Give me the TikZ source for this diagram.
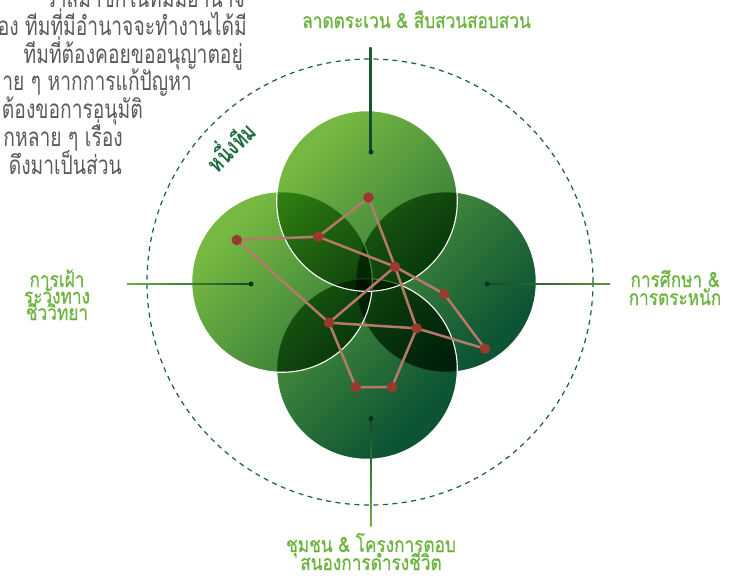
\documentclass[tikz,border=0pt]{standalone}
\usepackage{fontspec}
\newfontfamily\thai[Script=Thai, FakeStretch=0.74]{Loma}
\newfontfamily\thailbl[Script=Thai, FakeStretch=0.82, FakeBold=0.6]{Loma}
\usetikzlibrary{calc,shadings}
\definecolor{lblgreen}{HTML}{6DB33F}
\definecolor{dashgreen}{HTML}{1B5E3B}
\definecolor{gradlight}{HTML}{76B942}
\definecolor{graddark}{HTML}{0D5434}
\definecolor{linedark}{HTML}{0C4A2C}
\definecolor{dotdark}{HTML}{0A3220}
\definecolor{nodered}{HTML}{983A2E}
\definecolor{edgecol}{HTML}{B77A6A}
\definecolor{txtgray}{HTML}{5A5A5A}
\definecolor{teamgreen}{HTML}{1D6B3C}
\pgfdeclarehorizontalshading{diaggreen}{100bp}{color(0bp)=(gradlight); color(30.5bp)=(gradlight); color(68.5bp)=(graddark); color(100bp)=(graddark)}
\tikzset{
  lbl/.style={text=lblgreen, font=\thailbl\fontsize{21}{18.5}\selectfont, anchor=base, inner sep=0},
  para/.style={text=txtgray, font=\thai\fontsize{26}{27}\selectfont, anchor=base east, inner sep=0},
  netnode/.style={circle, fill=nodered, inner sep=0, minimum size=10.5pt},
  netedge/.style={draw=edgecol, line width=2.5pt},
  enddot/.style={circle, fill=dotdark, inner sep=0, minimum size=5pt},
  ringline/.style={white, line width=1.1pt}
}
\begin{document}
\begin{tikzpicture}[x=1pt,y=-1pt]
\useasboundingbox (0,0) rectangle (740,581);
\clip (0,0) rectangle (740,581);
% circle centres
\coordinate (cR) at (446,282);
\coordinate (cB) at (367,369);
\coordinate (cL) at (282,282);
\coordinate (cT) at (367,201);
\coordinate (cen) at (370,282);
% four circles, multiplied
\foreach \c in {cR,cB,cL,cT}{
  \begin{scope}[blend mode=multiply]
    \clip (\c) circle[radius=90.3];
    \shade[shading=diaggreen, shading angle=-45] (190,110) rectangle (540,460);
  \end{scope}
  \draw[ringline] (\c) circle[radius=90.3];
}
% dashed ring
\draw[dashgreen, line width=1.2pt, dash pattern=on 5pt off 4.5pt] (cen) circle[radius=223];
% label connectors
\coordinate (tEnd) at (370,47);  \coordinate (tDot) at (371,152);
\coordinate (lEnd) at (127,284); \coordinate (lDot) at (251,284);
\coordinate (rEnd) at (610,284); \coordinate (rDot) at (487,284);
\coordinate (bEnd) at (371,526); \coordinate (bDot) at (371,418.5);
\shade[top color=dashgreen, bottom color=linedark] ($(tEnd)+(-0.7,0)$) rectangle ($(tDot)+(0.7,0)$);
\shade[left color=lblgreen, right color=linedark] ($(lEnd)+(0,-0.7)$) rectangle ($(lDot)+(0,0.7)$);
\shade[left color=linedark, right color=lblgreen!85!black] ($(rDot)+(0,-0.7)$) rectangle ($(rEnd)+(0,0.7)$);
\shade[top color=linedark, bottom color=lblgreen] ($(bDot)+(-0.7,0)$) rectangle ($(bEnd)+(0.7,0)$);
\node[enddot] (tDotN) at (tDot) {};
\node[enddot] (lDotN) at (lDot) {};
\node[enddot] (rDotN) at (rDot) {};
\node[enddot] (bDotN) at (bDot) {};
% network
\coordinate (nA) at (368.5,197.5);
\coordinate (nB) at (236.7,240);
\coordinate (nC) at (318.3,236.7);
\coordinate (nD) at (395,266.7);
\coordinate (nE) at (444.3,294);
\coordinate (nF) at (329,322.7);
\coordinate (nG) at (416.7,328.3);
\coordinate (nH) at (485,348.7);
\coordinate (nI) at (355.7,387);
\coordinate (nJ) at (392,387);
\path[netedge, line join=round] (nB) -- (nC) -- (nA) -- (nD) -- (nE) -- (nH) -- (nG) -- (nJ) -- (nI) -- (nF) -- (nB);
\path[netedge, line join=round] (nC) -- (nD) -- (nF) -- (nG) -- (nD);
\foreach \n in {nA,nB,nC,nD,nE,nF,nG,nH,nI,nJ}{ \node[netnode] at (\n) {}; }
% labels
\node[lbl, anchor=base west] (labTop) at (302,28) {ลาดตระเวน \& สืบสวนสอบสวน};
\node[lbl] (labRight1) at (675,287) {การศึกษา \&};
\node[lbl] (labRight2) at (675,305) {การตระหนัก};
\node[lbl] (labLeft1) at (57,287) {การเฝ้า};
\node[lbl] (labLeft2) at (57,303.5) {ระวังทาง};
\node[lbl] (labLeft3) at (57,320) {ชีววิทยา};
\node[lbl] (labBottom1) at (371,552) {ชุมชน \& โครงการตอบ};
\node[lbl] (labBottom2) at (371,570) {สนองการดำรงชีวิต};
\node[rotate=45, text=teamgreen, font=\thai\bfseries\fontsize{24.5}{24.5}\selectfont, inner sep=0] (team) at (229,145) {หนึ่งทีม};
% paragraph (cropped at the left)
\node[para] (p1) at (245,7) {ว่าสมาชิกในทีมมีอำนาจ};
\node[para] (p2) at (247,35) {อง ทีมที่มีอำนาจจะทำงานได้มี};
\node[para] (p3) at (243,63) {ทีมที่ต้องคอยขออนุญาตอยู่};
\node[para] (p4) at (192,90) {าย ๆ หากการแก้ปัญหา};
\node[para] (p5) at (143,118) {ต้องขอการอนุมัติ};
\node[para] (p6) at (123,146) {กหลาย ๆ เรื่อง};
\node[para] (p7) at (122,174) {ดึงมาเป็นส่วน};
\end{tikzpicture}
\end{document}
